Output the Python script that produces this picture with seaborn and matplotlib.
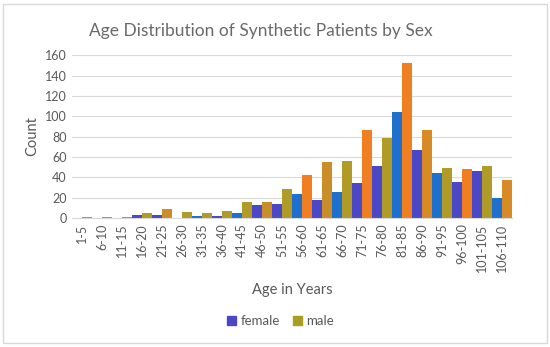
import matplotlib
matplotlib.use('Agg')
import matplotlib.pyplot as plt
from matplotlib.patches import Rectangle, Patch
import pandas as pd
import seaborn as sns

age_groups = ['1-5', '6-10', '11-15', '16-20', '21-25', '26-30', '31-35', '36-40',
              '41-45', '46-50', '51-55', '56-60', '61-65', '66-70', '71-75', '76-80',
              '81-85', '86-90', '91-95', '96-100', '101-105', '106-110']
female = [0, 0, 0, 3, 3, 0, 2, 2, 5, 13, 14, 24, 18, 25, 34, 51, 104, 67, 44, 35, 46, 20]
male = [1, 1, 1, 5, 9, 6, 5, 7, 16, 16, 28, 42, 55, 56, 86, 79, 152, 86, 49, 48, 51, 37]

# the source render mixes two shades per series, keep that look
blue_a, blue_b = '#4b48c6', '#1f6fcc'
gold_a, gold_b = '#b09a28', '#f07f22'
female_colors = [blue_a, blue_a, blue_a, blue_a, blue_a, blue_a, blue_b, blue_a, blue_b, blue_a,
                 blue_a, blue_b, blue_a, blue_b, blue_a, blue_a, blue_b, blue_a, blue_b, blue_a,
                 blue_a, blue_b]
male_colors = [gold_a, gold_a, gold_a, gold_a, '#c98e2a', gold_a, gold_a, gold_a, gold_a, '#c98e2a',
               gold_a, gold_b, '#c98e2a', gold_a, gold_b, gold_a, gold_b, '#d88a26', gold_a, gold_b,
               gold_a, '#d88a26']

df = pd.DataFrame({
    'age': age_groups * 2,
    'count': female + male,
    'sex': ['female'] * len(age_groups) + ['male'] * len(age_groups),
})

sns.set_style('white')
plt.rcParams['font.family'] = ['Lato', 'DejaVu Sans']

fig = plt.figure(figsize=(5.5, 3.47), dpi=100)
ax = fig.add_axes([0.131, 0.372, 0.80, 0.469])

sns.barplot(data=df, x='age', y='count', hue='sex', order=age_groups,
            hue_order=['female', 'male'], width=0.96, saturation=1,
            edgecolor='none', legend=False, ax=ax)

n = len(age_groups)
for i, p in enumerate(ax.patches[:n]):
    p.set_facecolor(female_colors[i])
for i, p in enumerate(ax.patches[n:2 * n]):
    p.set_facecolor(male_colors[i])

ax.set_ylim(0, 160)
ax.set_yticks(range(0, 161, 20))
ax.set_xlim(-0.5, n - 0.5)
ax.yaxis.grid(True, color='#d9d9d9', linewidth=0.8)
ax.set_axisbelow(True)
for s in ['top', 'right', 'left']:
    ax.spines[s].set_visible(False)
ax.spines['bottom'].set_color('#d9d9d9')
ax.tick_params(axis='both', length=0, labelsize=9, colors='#595959', pad=4)
ax.tick_params(axis='x', rotation=90)

ax.set_ylabel('Count', fontsize=10.5, color='#595959')
ax.set_xlabel('Age in Years', fontsize=10.5, color='#595959', labelpad=8)
fig.text(0.475, 0.91, 'Age Distribution of Synthetic Patients by Sex',
         ha='center', va='center', fontsize=12.5, color='#6a6a6a')

handles = [Patch(color='#4b48c6', label='female'), Patch(color='#a89e22', label='male')]
fig.legend(handles=handles, loc='center', bbox_to_anchor=(0.51, 0.075), ncol=2,
           frameon=False, fontsize=9.5, labelcolor='#595959', handlelength=0.7,
           handleheight=0.7, handletextpad=0.3, columnspacing=1.0)

fig.patches.append(Rectangle((0.006, 0.012), 0.988, 0.976, transform=fig.transFigure,
                             fill=False, edgecolor='#d9d9d9', linewidth=1))

fig.savefig('out.png', dpi=100)
